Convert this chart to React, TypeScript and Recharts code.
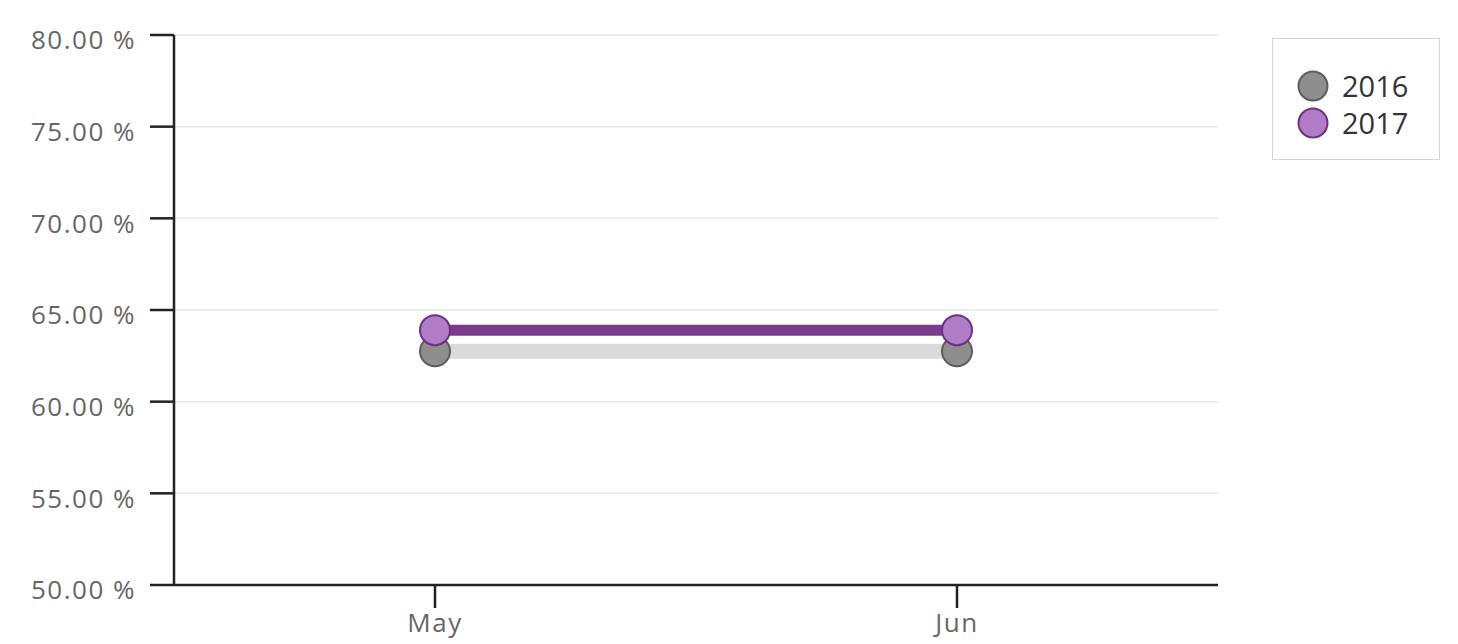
import { CartesianGrid, Line, LineChart, XAxis, YAxis } from "recharts";

const months = ["May", "Jun"];
const rate2016 = [62.75, 62.75];
const rate2017 = [63.9, 63.9];
const yTicks = [50, 55, 60, 65, 70, 75, 80];

const data = months.map((m, i) => ({
  month: m,
  y2016: rate2016[i],
  y2017: rate2017[i],
}));

const FONT = "'Open Sans', 'DejaVu Sans', sans-serif";

const legendItems = [
  { label: "2016", fill: "#8e8e8e", stroke: "#5c5c5c" },
  { label: "2017", fill: "#b07cc6", stroke: "#6e3182" },
];

function BoxLegend() {
  return (
    <div
      style={{
        position: "absolute",
        left: 1272,
        top: 38,
        width: 168,
        height: 122,
        border: "1.5px solid #d4d4d4",
        boxSizing: "border-box",
        paddingTop: 28,
        paddingLeft: 23,
        fontFamily: FONT,
        fontSize: 29,
        color: "#333",
      }}
    >
      {legendItems.map((it) => (
        <div
          key={it.label}
          style={{ display: "flex", alignItems: "center", height: 37 }}
        >
          <svg width={34} height={34} style={{ marginRight: 12 }}>
            <circle
              cx={17}
              cy={17}
              r={14.5}
              fill={it.fill}
              stroke={it.stroke}
              strokeWidth={2}
            />
          </svg>
          <span>{it.label}</span>
        </div>
      ))}
    </div>
  );
}

export default function App() {
  return (
    <div
      style={{
        position: "absolute",
        left: 0,
        top: 0,
        width: 1458,
        height: 644,
        background: "#fff",
      }}
    >
      <LineChart
        width={1458}
        height={644}
        data={data}
        margin={{ top: 35, right: 240, left: 0, bottom: 0 }}
      >
        <CartesianGrid vertical={false} stroke="#e6e6e6" strokeWidth={1.5} />
        <XAxis
          dataKey="month"
          scale="band"
          height={59}
          axisLine={{ stroke: "#222", strokeWidth: 2.5 }}
          tickLine={{ stroke: "#222", strokeWidth: 2.5 }}
          tickSize={23}
          tickMargin={6}
          tick={{
            fontSize: 26,
            fill: "#666",
            fontFamily: FONT,
            letterSpacing: 1.5,
          }}
        />
        <YAxis
          width={174}
          domain={[50, 80]}
          ticks={yTicks}
          interval={0}
          tickFormatter={(v: number) => `${v.toFixed(2)} %`}
          axisLine={{ stroke: "#222", strokeWidth: 2.5 }}
          tickLine={{ stroke: "#222", strokeWidth: 2.5 }}
          tickSize={24}
          tickMargin={14}
          tick={{
            fontSize: 26,
            fill: "#666",
            fontFamily: FONT,
            dy: 5,
            letterSpacing: 1.5,
          }}
        />
        <Line
          dataKey="y2016"
          name="2016"
          stroke="#dadada"
          strokeWidth={15}
          dot={{ r: 15, fill: "#8e8e8e", stroke: "#5c5c5c", strokeWidth: 2 }}
          isAnimationActive={false}
        />
        <Line
          dataKey="y2017"
          name="2017"
          stroke="#7b3b8e"
          strokeWidth={11}
          dot={{ r: 15, fill: "#b07cc6", stroke: "#6e3182", strokeWidth: 2 }}
          isAnimationActive={false}
        />
      </LineChart>
      <BoxLegend />
    </div>
  );
}
